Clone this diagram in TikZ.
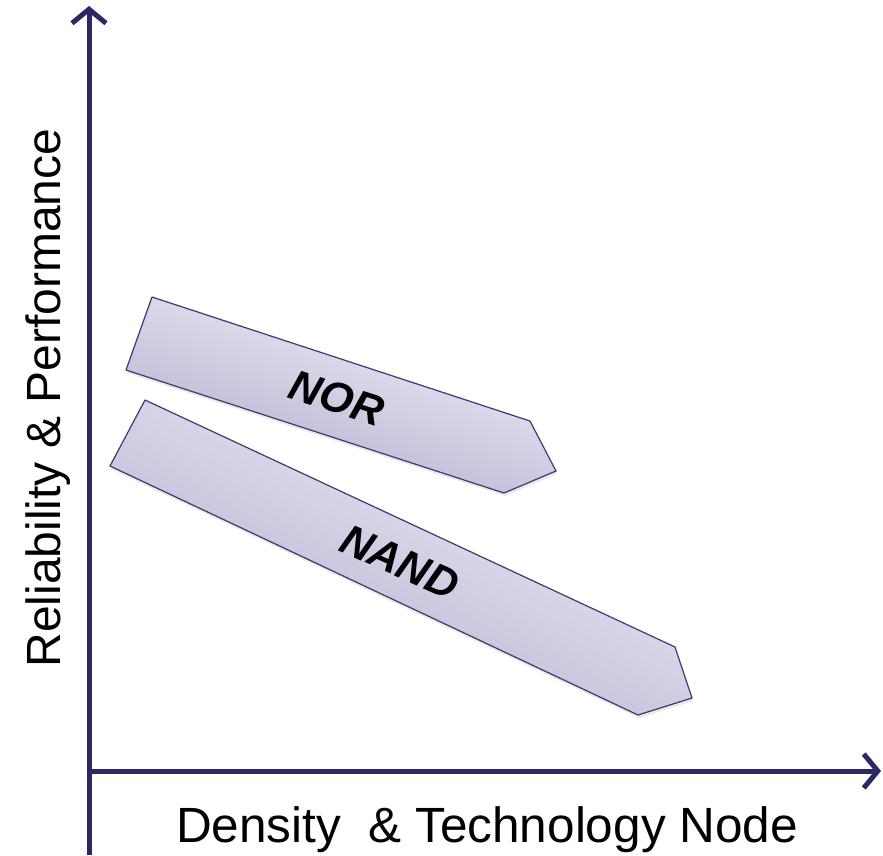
\documentclass[tikz,border=0pt]{standalone}
\usepackage{fontspec}
\setmainfont{Liberation Sans}
\usetikzlibrary{arrows.meta,shadows}
\definecolor{axisblue}{RGB}{43,40,100}
\definecolor{edgeblue}{RGB}{60,58,112}
\definecolor{fillhi}{RGB}{242,242,248}
\definecolor{fillmid}{RGB}{228,227,239}
\definecolor{filllo}{RGB}{176,172,206}

\begin{document}
\begin{tikzpicture}[x=1pt,y=-1pt,
	axis/.style={line width=5pt, draw=axisblue, -{Straight Barb[length=14pt,width=34pt]}},
	band/.style={draw=edgeblue, line width=1.2pt, line join=round,
		top color=fillhi, middle color=fillmid, bottom color=filllo,
		drop shadow={opacity=0.18, shadow xshift=1pt, shadow yshift=-3pt}},
	tag/.style={font=\fontsize{43}{52}\selectfont\bfseries\itshape},
	title/.style={font=\fontsize{48}{58}\selectfont}]
	\useasboundingbox (0,0) rectangle (883,855);
	% axes
	\coordinate (ybot) at (89,855);
	\coordinate (ytop) at (89,6);
	\coordinate (origin) at (89,771);
	\coordinate (xend) at (881,771);
	\draw[axis] (ybot) -- (ytop);
	\draw[axis] (origin) -- (xend);
	% bands
	\path[band, shading angle=-18] (152,297) -- (530,421) -- (556,471) -- (504,493) -- (126,370) -- cycle;
	\path[band, shading angle=-25] (145,400) -- (675,647) -- (692,698) -- (638,715) -- (110,466) -- cycle;
	\node[tag, rotate=-18] (nor) at (337,398) {NOR};
	\node[tag, rotate=-24] (nand) at (400,562) {NAND};
	% labels
	\node[title, font=\fontsize{49.5}{58}\selectfont, anchor=base] (xlabel) at (487,842) {Density~ \& Technology Node};
	\node[title, anchor=base, rotate=90] (ylabel) at (60,398) {Reliability \& Performance};
\end{tikzpicture}
\end{document}
